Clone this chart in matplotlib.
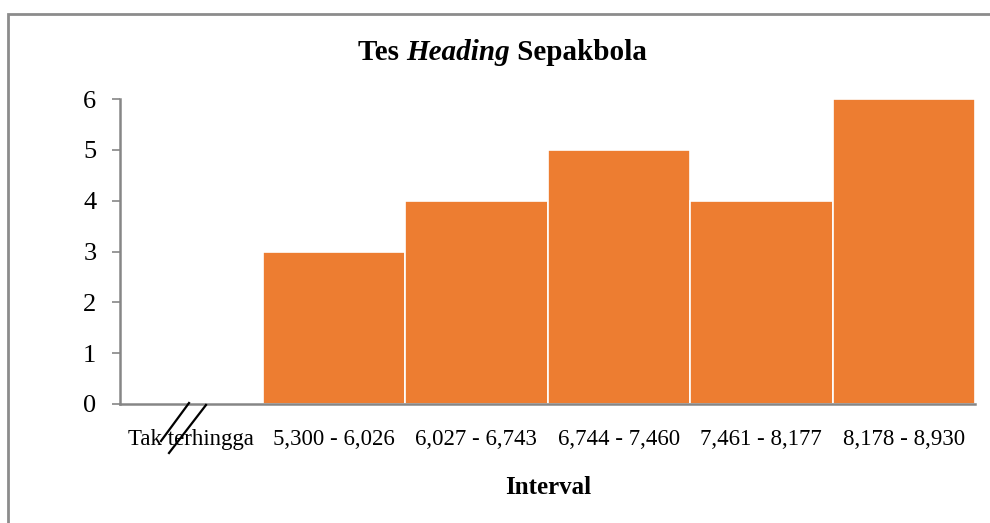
import matplotlib.pyplot as plt
from matplotlib.lines import Line2D
from matplotlib.patches import Rectangle

categories = ["Tak terhingga", "5,300 - 6,026", "6,027 - 6,743",
              "6,744 - 7,460", "7,461 - 8,177", "8,178 - 8,930"]
frequencies = [0, 3, 4, 5, 4, 6]
y_ticks = [0, 1, 2, 3, 4, 5, 6]

W, H = 990, 523
plt.rcParams['font.family'] = ['Liberation Serif', 'DejaVu Serif']

fig = plt.figure(figsize=(W / 100, H / 100), dpi=100)
ax = fig.add_axes([120 / W, 1 - 404 / H, (975 - 120) / W, (404 - 99) / H])

ax.bar(range(len(categories)), frequencies, width=1.0,
       color='#ED7D31', edgecolor='white', linewidth=1.2)

ax.set_xlim(-0.5, len(categories) - 0.5)
ax.set_ylim(0, 6)
ax.set_yticks(y_ticks)
ax.set_xticks(range(len(categories)))
ax.set_xticklabels(categories)
ax.tick_params(axis='x', length=0, pad=18, labelsize=16.5)
ax.tick_params(axis='y', length=6, width=1.2, color='#868686', pad=11, labelsize=19)

for side in ['top', 'right']:
    ax.spines[side].set_visible(False)
for side in ['left', 'bottom']:
    ax.spines[side].set_color('#868686')
    ax.spines[side].set_linewidth(1.8)

# title, middle word in italic
fig.canvas.draw()
renderer = fig.canvas.get_renderer()
title_parts = [("Tes ", 'normal'), ("Heading", 'italic'), (" Sepakbola", 'normal')]
x = 358
for s, style in title_parts:
    t = fig.text(x / W, 1 - 52 / H, s, fontsize=21, fontweight='bold',
                 style=style, va='center', ha='left')
    x += t.get_window_extent(renderer).width

fig.text(548 / W, 1 - 487 / H, "Interval", fontsize=18, fontweight='bold',
         ha='center', va='center')

# axis break marks
for (x0, y0, x1, y1) in [(189, 403, 161, 441), (206, 405, 169, 453)]:
    fig.add_artist(Line2D([x0 / W, x1 / W], [1 - y0 / H, 1 - y1 / H],
                          color='black', linewidth=1.6))

# outer border (chart area frame)
fig.add_artist(Rectangle((8 / W, -0.1), 1.2, 1 - 14 / H + 0.1, transform=fig.transFigure,
                         fill=False, edgecolor='#8c8c8c', linewidth=2))

fig.savefig('out.png', dpi=100)
